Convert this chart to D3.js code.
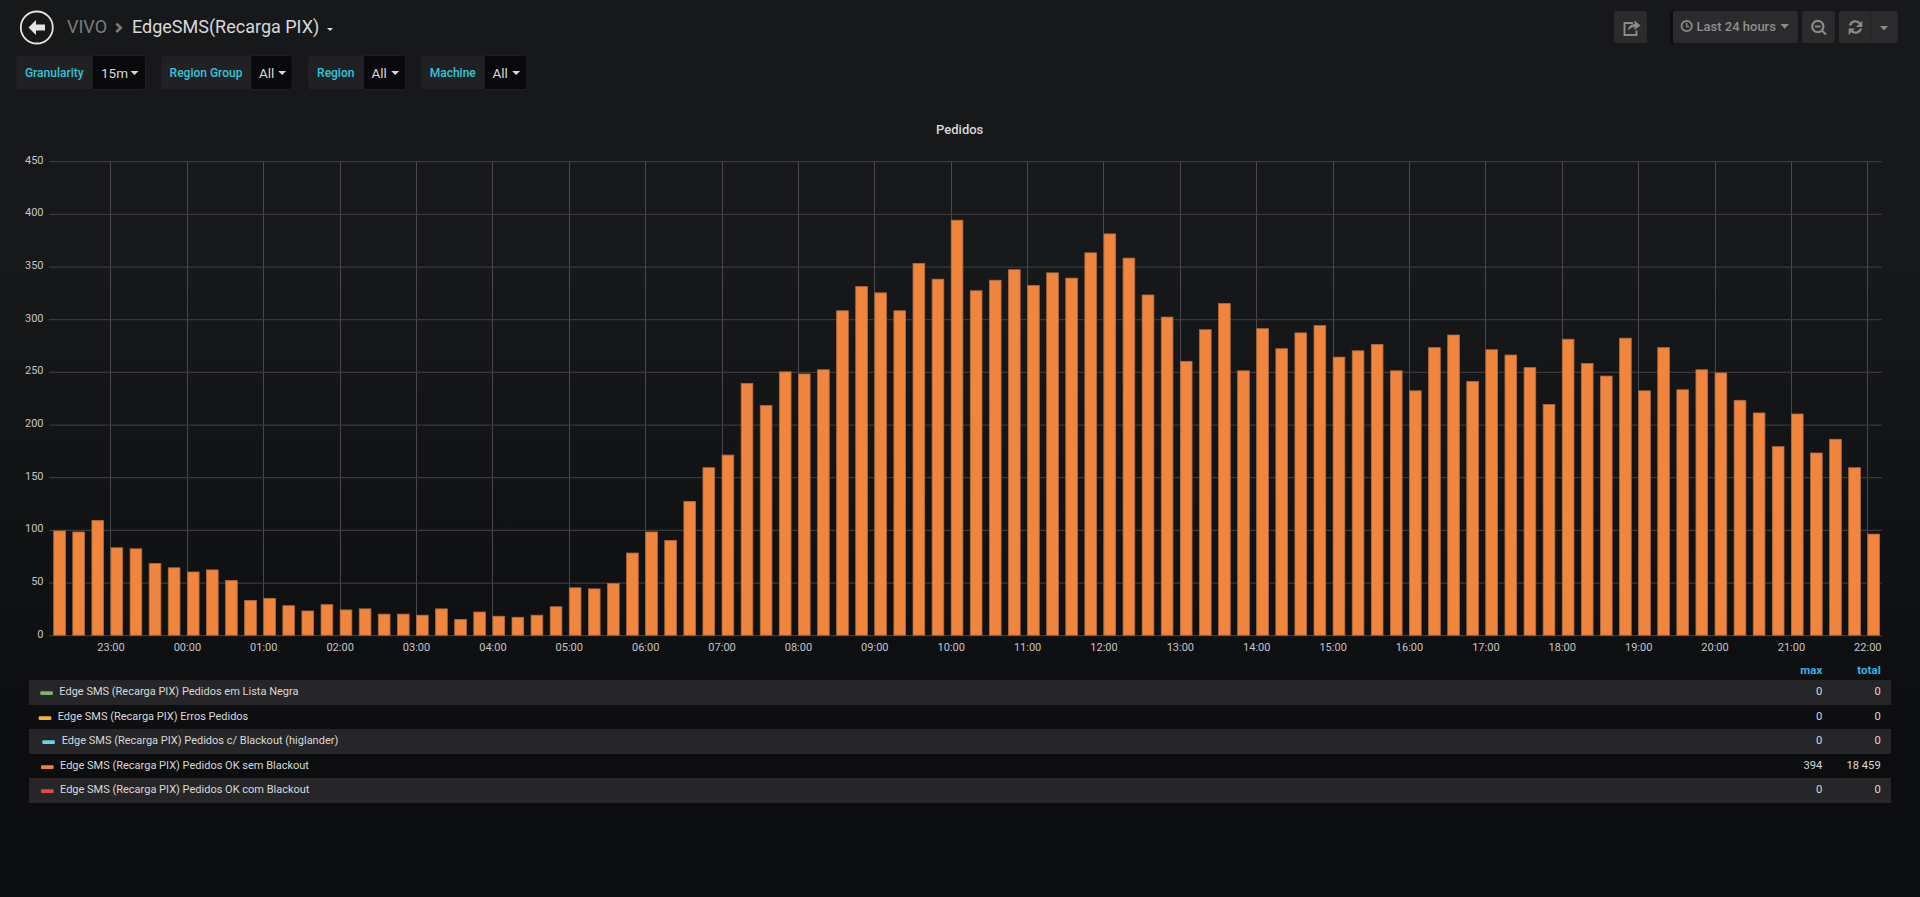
<!DOCTYPE html>
<html><head><meta charset="utf-8">
<script src="https://cdn.jsdelivr.net/npm/d3@7/dist/d3.min.js"></script>
<style>
html,body{margin:0;padding:0;background:#0b0c0e;overflow:hidden}
svg{display:block}
text{font-family:Roboto,"Liberation Sans",sans-serif}
</style></head><body>
<script>
const title = "Pedidos";
const firstBucket = "2021-01-01T22:15:00Z";
const lastBucket = "2021-01-02T22:00:00Z";
const okValues = [99,98,109,83,82,68,64,60,62,52,33,35,28,23,29,24,25,20,20,19,25,15,22,18,17,19,27,45,44,49,78,98,90,127,159,171,239,218,250,248,252,308,331,325,308,353,338,394,327,337,347,332,344,339,363,381,358,323,302,260,290,315,251,291,272,287,294,264,270,276,251,232,273,285,241,271,266,254,219,281,258,246,282,232,273,233,252,249,223,211,179,210,173,186,159,96];
const yTicks = [0,50,100,150,200,250,300,350,400,450];
const legendNames = ["Edge SMS (Recarga PIX) Pedidos em Lista Negra","Edge SMS (Recarga PIX) Erros Pedidos","Edge SMS (Recarga PIX) Pedidos c/ Blackout (higlander)","Edge SMS (Recarga PIX) Pedidos OK sem Blackout","Edge SMS (Recarga PIX) Pedidos OK com Blackout"];
const legendColors = ["#7eb26d","#eab839","#6ed0e0","#ef843c","#e24d42"];
const legendMax = ["0","0","0","394","0"];
const legendTotal = ["0","0","0","18 459","0"];
const legendDashX = [40.3,38.7,42.3,41,41];
const legendTextX = [59.3,57.7,61.7,60,60];
const variables = [["Granularity","15m"],["Region Group","All"],["Region","All"],["Machine","All"]];
const varBoxes = [[16,92.5,145.5],[161,251,292.6],[308,363.5,405.7],[421,484.5,526.7]];

const W=1920,H=897;
const svg=d3.select("body").append("svg").attr("width",W).attr("height",H).attr("viewBox",`0 0 ${W} ${H}`);
const defs=svg.append("defs");
const g=defs.append("linearGradient").attr("id","bg").attr("x1",0).attr("x2",0).attr("y1",0).attr("y2",1);
g.append("stop").attr("offset","0.3").attr("stop-color","#17181a");
g.append("stop").attr("offset","0.85").attr("stop-color","#0c0d0f");
svg.append("rect").attr("width",W).attr("height",H).attr("fill","url(#bg)");

// Header
const hdr=svg.append("g");
hdr.append("circle").attr("cx",36.8).attr("cy",27.5).attr("r",16).attr("fill","none").attr("stroke","#e3e3e3").attr("stroke-width",1.8);
hdr.append("path").attr("d","M28.5 27.5 L36 20 L36 24.5 L45 24.5 L45 30.5 L36 30.5 L36 35 Z").attr("fill","#e3e3e3");
hdr.append("text").attr("x",67).attr("y",33).attr("font-size",18).attr("fill","#7b7b7b").text("VIVO");
hdr.append("path").attr("d","M116.3 23.5 L120.8 27.8 L116.3 32").attr("fill","none").attr("stroke","#7b7b7b").attr("stroke-width",2.6);
hdr.append("text").attr("x",132).attr("y",33).attr("font-size",18).attr("fill","#d8d9da").text("EdgeSMS(Recarga PIX)");
hdr.append("path").attr("d","M327 28 L333 28 L330 31 Z").attr("fill","#d8d9da");

// Variables
variables.forEach((v,i)=>{
  const [a,b,c]=varBoxes[i];
  const vg=svg.append("g");
  vg.append("rect").attr("x",a).attr("y",55.5).attr("width",c-a).attr("height",34).attr("rx",3).attr("fill","#212124").attr("stroke","#1a1b1d");
  vg.append("path").attr("d",`M${b} 55.5 H${c-3} Q${c} 55.5 ${c} 58.5 V86.5 Q${c} 89.5 ${c-3} 89.5 H${b} Z`).attr("fill","#09090b").attr("stroke","#1f1f22");
  vg.append("text").attr("x",(a+b)/2).attr("y",77).attr("text-anchor","middle").attr("font-size",12).attr("font-weight",500).attr("fill","#33c5d8").text(v[0]);
  vg.append("text").attr("x",b+(i==0?8.5:8)).attr("y",77.5).attr("font-size",13.5).attr("fill","#d8d9da").text(v[1]);
  const cx=c-(i==0?11:10.5);
  vg.append("path").attr("d",`M${cx-4} 71 H${cx+4} L${cx} 75 Z`).attr("fill","#d8d9da");
});

// Right toolbar
const btn=(x0,x1)=>svg.append("rect").attr("x",x0).attr("y",11).attr("width",x1-x0).attr("height",32).attr("rx",2).attr("fill","#2b2b2e");
btn(1614,1647);btn(1673,1797.7);btn(1802,1834.7);btn(1839,1897.7);
svg.append("rect").attr("x",1670).attr("y",11).attr("width",3).attr("height",32).attr("fill","#0d0e10");
svg.append("line").attr("x1",1870.5).attr("x2",1870.5).attr("y1",11).attr("y2",43).attr("stroke","#222224");
const ic="#8a8a8a";
svg.append("path").attr("d","M1633 23 H1624.5 V35 H1636.5 V30.5").attr("fill","none").attr("stroke",ic).attr("stroke-width",1.9);
svg.append("path").attr("d","M1628 30.5 Q1628.5 24 1634.5 24 V20.5 L1640.5 25.5 L1634.5 30 V27 Q1631 27 1628 30.5 Z").attr("fill",ic);
svg.append("circle").attr("cx",1686.7).attr("cy",26).attr("r",5.2).attr("fill","none").attr("stroke",ic).attr("stroke-width",1.8);
svg.append("path").attr("d","M1686.7 22.8 V26.6 H1689.2").attr("fill","none").attr("stroke",ic).attr("stroke-width",1.3);
svg.append("text").attr("x",1696.5).attr("y",31).attr("font-size",13).attr("font-weight",500).attr("fill","#8f8f8f").text("Last 24 hours");
svg.append("path").attr("d","M1780.5 24 H1789 L1784.7 28.7 Z").attr("fill",ic);
svg.append("circle").attr("cx",1817.8).attr("cy",26.5).attr("r",5.6).attr("fill","none").attr("stroke",ic).attr("stroke-width",2.2);
svg.append("path").attr("d","M1815 26.5 H1820.6 M1821.8 30.5 L1826 34.5").attr("stroke",ic).attr("stroke-width",2).attr("fill","none");
svg.append("path").attr("d","M1850 25.5 A5.6 5.6 0 0 1 1860 23.8 M1861 28.5 A5.6 5.6 0 0 1 1851 30.2").attr("fill","none").attr("stroke",ic).attr("stroke-width",2.3);
svg.append("path").attr("d","M1862.3 20.5 V27 H1856 Z M1848.7 35 V28.6 H1855 Z").attr("fill",ic);
svg.append("path").attr("d","M1880 26 H1888 L1884 30.5 Z").attr("fill",ic);

// Chart
svg.append("text").attr("x",959.7).attr("y",134).attr("text-anchor","middle").attr("font-size",13).attr("font-weight",500).attr("fill","#d8d9da").text(title);

const times=okValues.map((_,i)=>d3.utcMinute.offset(new Date(firstBucket),i*15));
const x=d3.scaleUtc().domain([new Date(firstBucket),new Date(lastBucket)]).range([53.2,1867.3]);
const y=d3.scaleLinear().domain([0,450]).range([635.2,161.2]);
const gridLeft=49, gridRight=1881.7;
const barW=(x(times[1])-x(times[0]))*0.665;
const hours=d3.utcHour.range(d3.utcHour.ceil(times[0]),d3.utcMinute.offset(times[times.length-1],1));

const gx=svg.append("g").attr("transform","translate(0,635.2)").call(d3.axisBottom(x).tickValues(hours).tickFormat(d3.utcFormat("%H:%M")).tickSize(-474).tickPadding(8));
gx.select(".domain").remove();
gx.selectAll("line").attr("stroke","#48484a").attr("stroke-width",1).attr("shape-rendering","crispEdges");
gx.selectAll("text").attr("font-size",11).attr("font-family","Roboto").attr("fill","#c4c5c6").attr("dy","0.71em");

const gy=svg.append("g").attr("transform",`translate(${gridLeft},0)`).call(d3.axisLeft(y).tickValues(yTicks).tickSize(-(gridRight-gridLeft)).tickPadding(5.5));
gy.select(".domain").remove();
gy.selectAll("line").attr("stroke","#39393c").attr("stroke-width",1.2);
gy.selectAll("text").attr("font-size",11).attr("font-family","Roboto").attr("fill","#c4c5c6").attr("dy","0.17em");

svg.append("g").selectAll("rect").data(okValues).join("rect")
 .attr("x",(d,i)=>x(times[i])+.5).attr("y",d=>y(d)).attr("width",barW-1).attr("height",d=>y(0)-y(d))
 .attr("fill","#f0853d").attr("stroke","#b06a3c").attr("stroke-width",.8);

// Legend
const hs=svg.append("g").attr("font-size",11.5).attr("font-weight",700).attr("fill","#33b5e5").attr("text-anchor","end");
hs.append("text").attr("x",1822.3).attr("y",674).text("max");
hs.append("text").attr("x",1880.7).attr("y",674).text("total");
const rowTops=[680,705,729,754,778];
const rowH=[25,24,25,24,25];
const lg=svg.append("g");
lg.selectAll(".row").data(legendNames).join("g").each(function(n,i){
  const r=d3.select(this), top=rowTops[i], mid=top+11.5;
  if(i%2==0) r.append("rect").attr("x",29).attr("y",top).attr("width",1862).attr("height",rowH[i]).attr("fill","#262628");
  r.append("rect").attr("x",legendDashX[i]).attr("y",mid-.2).attr("width",12.6).attr("height",3.7).attr("rx",1).attr("fill",legendColors[i]);
  r.append("text").attr("x",legendTextX[i]).attr("y",mid+3.5).attr("font-size",11).attr("fill","#d8d9da").text(n);
  r.append("text").attr("x",1822.3).attr("y",mid+3.5).attr("text-anchor","end").attr("font-size",11.2).attr("fill","#d8d9da").text(legendMax[i]);
  r.append("text").attr("x",1880.7).attr("y",mid+3.5).attr("text-anchor","end").attr("font-size",11.2).attr("fill","#d8d9da").text(legendTotal[i]);
});
</script>
</body></html>
